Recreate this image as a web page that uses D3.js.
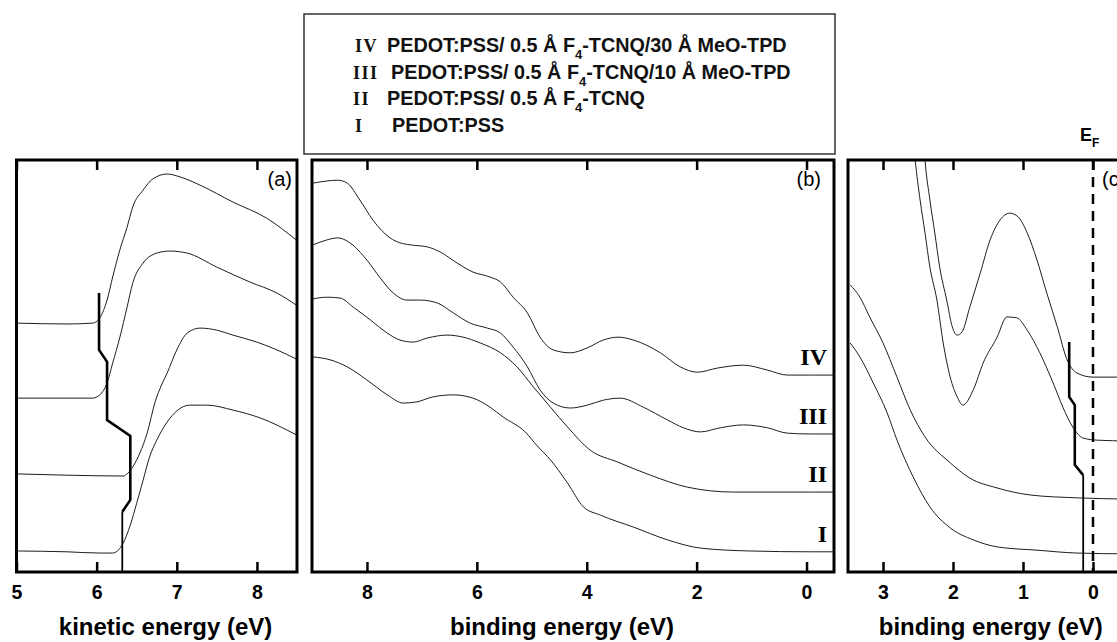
<!DOCTYPE html>
<html><head><meta charset="utf-8">
<script src="https://cdn.jsdelivr.net/npm/d3@7"></script>
<style>
html,body{margin:0;padding:0;background:#fff;}
svg{display:block;}
</style></head><body>
<svg id="chart" width="1117" height="642"></svg>
<script>
// ---------------- DATA ----------------
// Legend rows (top to bottom)
const legendNumerals = ["IV", "III", "II", "I"];
const legendTexts = [
  ["PEDOT:PSS/ 0.5 Å F", "4", "-TCNQ/30 Å MeO-TPD"],
  ["PEDOT:PSS/ 0.5 Å F", "4", "-TCNQ/10 Å MeO-TPD"],
  ["PEDOT:PSS/ 0.5 Å F", "4", "-TCNQ"],
  ["PEDOT:PSS", "", ""]
];
const seriesLabels = ["I", "II", "III", "IV"];

// Tick values
const ticksA = [5, 6, 7, 8];
const ticksB = [8, 6, 4, 2, 0];
const ticksC = [3, 2, 1, 0];

// Panel (a): secondary electron cutoff, [kinetic energy eV, intensity a.u.]
const secoI = [[5.02,5.1],[5.63,4.9],[6.04,4.6],[6.20,4.6],[6.27,5.3],[6.33,7.0],[6.42,11.4],[6.50,16.7],[6.58,22.3],[6.66,27.9],[6.75,32.0],[6.88,36.4],[7.00,39.1],[7.16,40.5],[7.38,40.5],[7.70,39.3],[8.04,37.4],[8.49,33.3]];
const secoII = [[5.02,23.8],[5.63,23.5],[6.33,23.3],[6.39,24.0],[6.45,25.5],[6.54,28.9],[6.63,33.7],[6.73,41.3],[6.81,45.4],[6.88,48.3],[7.00,53.9],[7.13,58.0],[7.29,59.2],[7.50,58.7],[7.70,57.5],[8.00,55.8],[8.25,53.9],[8.49,51.7]];
const secoIII = [[5.02,42.2],[5.95,42.2],[6.04,43.0],[6.13,45.9],[6.20,50.7],[6.29,57.0],[6.38,64.3],[6.45,70.1],[6.58,75.0],[6.75,77.4],[6.91,77.9],[7.13,77.4],[7.50,74.0],[7.91,70.4],[8.25,67.7],[8.49,64.8]];
const secoIV = [[5.02,60.4],[5.63,60.2],[5.95,60.4],[6.04,61.7],[6.13,66.0],[6.20,71.6],[6.29,78.2],[6.38,83.7],[6.45,88.6],[6.58,92.7],[6.70,95.4],[6.88,96.6],[7.04,95.9],[7.29,93.9],[7.70,89.8],[8.12,85.9],[8.49,80.6]];
const cutoffA = [[6.03,67.7],[6.03,53.9],[6.13,51.0],[6.13,36.9],[6.42,33.0],[6.42,17.5],[6.32,14.6],[6.32,0]];

// Panel (b): valence region, [binding energy eV, intensity a.u.]
const upsI = [[8.98,52.2],[8.67,51.5],[8.36,49.8],[8.00,46.6],[7.63,43.0],[7.34,41.0],[7.09,41.3],[6.80,42.5],[6.43,43.0],[6.07,42.2],[5.76,40.0],[5.52,37.6],[5.12,34.0],[4.90,30.6],[4.66,27.2],[4.35,21.6],[4.06,15.8],[3.75,13.8],[3.15,10.9],[2.53,7.8],[1.93,5.8],[1.02,5.1],[-0.07,4.9],[-0.49,4.9]];
const upsII = [[8.98,66.3],[8.73,66.7],[8.49,66.5],[8.25,64.3],[7.94,61.2],[7.63,58.0],[7.40,56.3],[7.16,55.8],[6.90,56.8],[6.54,57.5],[6.25,57.0],[5.94,55.6],[5.57,53.2],[5.27,49.8],[4.97,44.9],[4.66,40.0],[4.35,35.2],[3.94,29.6],[3.44,26.7],[2.84,23.5],[2.17,20.6],[1.33,19.4],[-0.07,19.4],[-0.49,19.4]];
const upsIII = [[8.98,79.4],[8.73,80.6],[8.53,81.1],[8.31,79.9],[8.00,75.7],[7.76,71.4],[7.52,67.7],[7.27,66.0],[7.03,66.0],[6.72,65.3],[6.43,62.9],[6.12,60.4],[5.81,59.2],[5.57,58.0],[5.34,54.6],[5.08,49.8],[4.85,44.2],[4.61,41.0],[4.30,39.8],[3.99,40.5],[3.70,41.7],[3.39,42.2],[2.97,40.0],[2.53,36.9],[2.24,35.0],[1.93,34.0],[1.57,35.0],[1.15,35.7],[0.71,35.0],[0.35,33.7],[-0.07,33.5],[-0.49,33.5]];
const upsIV = [[8.98,94.4],[8.73,94.9],[8.53,95.1],[8.36,94.4],[8.13,90.3],[7.89,85.4],[7.58,81.1],[7.40,79.9],[7.21,79.4],[6.90,78.9],[6.67,77.7],[6.36,75.0],[6.07,72.8],[5.76,71.6],[5.57,70.4],[5.34,66.7],[5.08,62.9],[4.85,57.0],[4.61,53.9],[4.30,53.2],[3.99,54.4],[3.70,56.3],[3.43,57.0],[3.15,56.3],[2.66,53.2],[2.30,49.8],[1.99,48.5],[1.62,49.5],[1.15,50.2],[0.71,49.0],[0.35,47.8],[-0.07,47.8],[-0.49,47.8]];

// Panel (c): near-Fermi region, [binding energy eV, intensity a.u.]
const vbI = [[3.47,55.6],[3.33,52.2],[3.14,45.9],[2.94,38.6],[2.80,32.0],[2.57,23.1],[2.33,15.8],[2.04,10.7],[1.71,7.8],[1.37,6.1],[0.80,5.3],[0.23,4.6],[-0.5,4.4]];
const vbII = [[3.47,69.7],[3.33,66.7],[3.19,61.9],[3.00,55.6],[2.80,47.3],[2.61,39.3],[2.40,32.8],[2.04,26.5],[1.76,22.8],[1.37,20.4],[0.90,18.7],[0.23,18.0],[-0.5,17.7]];
const vbIII = [[2.59,109.7],[2.54,100],[2.47,90.3],[2.40,82.3],[2.33,74.0],[2.23,66.0],[2.14,55.6],[2.04,47.3],[1.94,42.5],[1.86,40.5],[1.71,44.2],[1.57,50.7],[1.37,57.0],[1.23,61.9],[1.09,61.7],[0.94,58.7],[0.76,53.2],[0.57,45.9],[0.43,40.0],[0.29,35.2],[0.14,32.5],[-0.06,32.0],[-0.5,31.8]];
const vbIV = [[2.44,109.7],[2.40,100],[2.33,90.3],[2.26,82.3],[2.19,74.0],[2.09,66.0],[2.01,59.5],[1.94,57.5],[1.87,58.3],[1.76,64.3],[1.61,72.6],[1.47,80.6],[1.33,85.4],[1.19,87.1],[1.07,86.2],[0.94,82.3],[0.80,75.7],[0.66,67.7],[0.51,59.5],[0.37,51.5],[0.23,48.3],[0,47.3],[-0.5,47.3]];
const cutoffC = [[0.34,55.8],[0.34,42.5],[0.26,40.5],[0.26,26.0],[0.14,23.5],[0.14,0]];
const fermiLevel = 0;

// --------------- LAYOUT ---------------
const svg = d3.select("#chart");
const TOP = 160, BOTTOM = 572;
const y = d3.scaleLinear().domain([0, 100]).range([BOTTOM, TOP]);

const panels = [
  {id: "a", domain: [5, 8.5], range: [16.5, 297], ticks: ticksA, title: "kinetic energy (eV)", titleAt: 6.86,
   tag: "(a)", tagInset: 5, series: [secoI, secoII, secoIII, secoIV], cutoff: cutoffA},
  {id: "b", domain: [9, -0.5], range: [312, 834], ticks: ticksB, title: "binding energy (eV)", titleAt: 4.45,
   tag: "(b)", tagInset: 13, series: [upsI, upsII, upsIII, upsIV], cutoff: null, labels: true},
  {id: "c", domain: [3.5, -0.5], range: [848, 1128], ticks: ticksC, title: "binding energy (eV)", titleAt: 1.46,
   tag: "(c)", series: [vbI, vbII, vbIII, vbIV], cutoff: cutoffC, fermi: true}
];

const sans = "'Liberation Sans', Arial, Helvetica, sans-serif";
const serif = "'Liberation Serif', 'Times New Roman', Times, serif";
const defs = svg.append("defs");

panels.forEach(p => {
  const x = d3.scaleLinear().domain(p.domain).range(p.range);
  const g = svg.append("g");
  const w = p.range[1] - p.range[0];

  defs.append("clipPath").attr("id", "clip-" + p.id)
    .append("rect").attr("x", p.range[0]).attr("y", TOP).attr("width", w).attr("height", BOTTOM - TOP);

  const plot = g.append("g").attr("clip-path", "url(#clip-" + p.id + ")");
  const line = d3.line().x(d => x(d[0])).y(d => y(d[1])).curve(d3.curveMonotoneX);

  plot.selectAll("path.spec").data(p.series).join("path")
    .attr("class", "spec").attr("d", line)
    .attr("fill", "none").attr("stroke", "#1e1e1e").attr("stroke-width", 1);

  if (p.cutoff) {
    const straight = d3.line().x(d => x(d[0])).y(d => y(d[1]));
    const n = p.cutoff.length;
    plot.append("path").attr("d", straight(p.cutoff.slice(0, n - 1)))
      .attr("fill", "none").attr("stroke", "#000").attr("stroke-width", 2.6).attr("stroke-linejoin", "miter");
    plot.append("path").attr("d", straight(p.cutoff.slice(n - 2)))
      .attr("fill", "none").attr("stroke", "#000").attr("stroke-width", 1.8);
  }

  if (p.fermi) {
    plot.append("line").attr("x1", x(fermiLevel)).attr("x2", x(fermiLevel))
      .attr("y1", TOP).attr("y2", BOTTOM)
      .attr("stroke", "#000").attr("stroke-width", 2.5).attr("stroke-dasharray", "10,7");
    svg.append("text").attr("x", x(fermiLevel) - 13).attr("y", 141)
      .attr("font-family", sans).attr("font-weight", "bold").attr("font-size", 18)
      .text("E").append("tspan").attr("font-size", 12).attr("dy", 6).text("F");
  }

  // frame
  g.append("rect").attr("x", p.range[0]).attr("y", TOP).attr("width", w).attr("height", BOTTOM - TOP)
    .attr("fill", "none").attr("stroke", "#000").attr("stroke-width", 3);

  // bottom axis (inward ticks)
  const ax = g.append("g").attr("transform", `translate(0,${BOTTOM})`)
    .call(d3.axisBottom(x).tickValues(p.ticks).tickSize(-10).tickPadding(13).tickFormat(d3.format("d")));
  ax.select(".domain").remove();
  ax.selectAll(".tick line").attr("stroke", "#000").attr("stroke-width", 2.5);
  ax.selectAll(".tick text").attr("font-family", sans).attr("font-weight", "bold")
    .attr("font-size", 19.5).attr("fill", "#000");

  // top axis (inward ticks, no labels)
  const axT = g.append("g").attr("transform", `translate(0,${TOP})`)
    .call(d3.axisTop(x).tickValues(p.ticks).tickSize(-10).tickFormat(""));
  axT.select(".domain").remove();
  axT.selectAll(".tick line").attr("stroke", "#000").attr("stroke-width", 2.5);

  // axis title
  g.append("text").attr("x", x(p.titleAt)).attr("y", 635).attr("text-anchor", "middle")
    .attr("font-family", sans).attr("font-weight", "bold").attr("font-size", 24).text(p.title);

  // panel tag
  const tag = g.append("text").attr("y", 186).attr("font-family", sans).attr("font-size", 20).text(p.tag);
  if (p.id === "c") tag.attr("x", x(fermiLevel) + 9).attr("text-anchor", "start");
  else tag.attr("x", p.range[1] - p.tagInset).attr("text-anchor", "end");

  // series labels at right end of panel (b)
  if (p.labels) {
    g.selectAll("text.slab").data(p.series).join("text").attr("class", "slab")
      .attr("x", p.range[1] - 7)
      .attr("y", d => y(d[d.length - 1][1]) - 10)
      .attr("text-anchor", "end").attr("font-family", serif).attr("font-weight", "bold")
      .attr("font-size", 24).text((d, i) => seriesLabels[i]);
  }
});

// legend box
const lg = svg.append("g");
lg.append("rect").attr("x", 304).attr("y", 14).attr("width", 531).attr("height", 140)
  .attr("fill", "#fff").attr("stroke", "#333").attr("stroke-width", 1.5);
const numX = [355, 353, 353, 355];
const textX = [387, 391, 387, 392];
legendNumerals.forEach((num, i) => {
  const by = 52 + i * 26.7;
  lg.append("text").attr("x", numX[i]).attr("y", by)
    .attr("font-family", serif).attr("font-size", 18).attr("font-weight", "bold")
    .attr("letter-spacing", 1.5).attr("fill", "#111").text(num);
  const t = lg.append("text").attr("x", textX[i]).attr("y", by)
    .attr("font-family", sans).attr("font-weight", "bold").attr("font-size", 19.8).attr("fill", "#111");
  const parts = legendTexts[i];
  t.append("tspan").text(parts[0]);
  if (parts[1]) {
    t.append("tspan").attr("font-size", 13).attr("dy", 7).text(parts[1]);
    t.append("tspan").attr("dy", -7).text(parts[2]);
  }
});
</script>
</body></html>
